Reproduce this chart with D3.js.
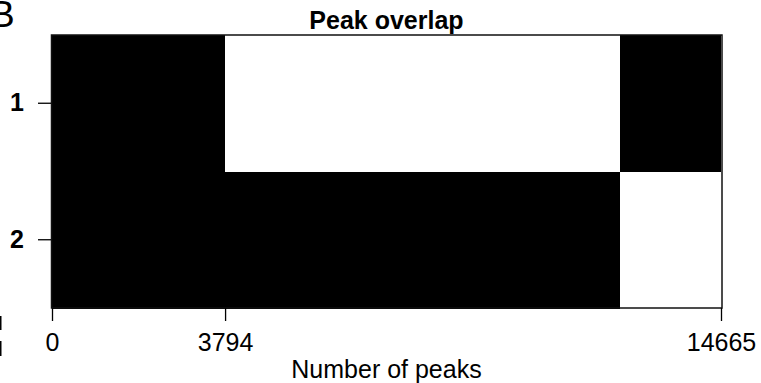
<!DOCTYPE html>
<html>
<head>
<meta charset="utf-8">
<script src="https://cdn.jsdelivr.net/npm/d3@7"></script>
<style>
  body { margin: 0; background: #fff; }
  svg { display: block; font-family: "Liberation Sans", Arial, sans-serif; }
</style>
</head>
<body>
<svg id="chart" width="761" height="383"></svg>
<script>
// Segment boundaries along the x axis (number of peaks)
var breaks = [0, 3794, 12460, 14665];
// Rows of the overlap matrix
var rows = ["1", "2"];
// Fill for each row and segment: 1 = black (peak present), 0 = white
var row1 = [1, 0, 1];
var row2 = [1, 1, 0];
// Labelled x ticks
var xTicks = [0, 3794, 14665];

var svg = d3.select("#chart");

var x = d3.scaleLinear()
    .domain([0, 14665])
    .range([52, 721]);

var y = d3.scaleBand()
    .domain(rows)
    .range([35, 308]);

// Build cells from the row arrays
var cells = [];
[row1, row2].forEach(function(r, i) {
    r.forEach(function(v, j) {
        cells.push({ row: rows[i], x0: breaks[j], x1: breaks[j + 1], v: v });
    });
});

svg.selectAll(".cell")
    .data(cells)
    .join("rect")
    .attr("class", "cell")
    .attr("x", function(d) { return Math.round(x(d.x0)); })
    .attr("width", function(d) { return Math.round(x(d.x1)) - Math.round(x(d.x0)); })
    .attr("y", function(d) { return Math.round(y(d.row)); })
    .attr("height", Math.round(y.bandwidth()))
    .attr("shape-rendering", "crispEdges")
    .attr("fill", function(d) { return d.v ? "#000" : "#fff"; });

// Box round the plot
svg.append("rect")
    .attr("x", 51.5)
    .attr("y", 35)
    .attr("width", 670.5)
    .attr("height", 273)
    .attr("fill", "none")
    .attr("stroke", "#111")
    .attr("stroke-width", 1.5);

// Y axis
var yAxis = svg.append("g")
    .attr("transform", "translate(51,0)")
    .call(d3.axisLeft(y).tickSize(13).tickPadding(14));
yAxis.select(".domain").remove();
yAxis.selectAll("line").attr("stroke", "#000").attr("stroke-width", 1.3);
yAxis.selectAll("text")
    .attr("font-size", 25)
    .attr("font-weight", "bold")
    .attr("fill", "#000")
    .style("font-family", "Liberation Sans, Arial, sans-serif");

// X axis
var xAxis = svg.append("g")
    .attr("transform", "translate(0,308)")
    .call(d3.axisBottom(x).tickValues(xTicks).tickFormat(d3.format("d")).tickSize(13).tickPadding(12));
xAxis.select(".domain").remove();
xAxis.selectAll("line").attr("stroke", "#000").attr("stroke-width", 1.3);
xAxis.selectAll("text")
    .attr("font-size", 25)
    .attr("fill", "#000")
    .style("font-family", "Liberation Sans, Arial, sans-serif");

// Title and axis label
svg.append("text")
    .attr("x", 386.5)
    .attr("y", 29)
    .attr("text-anchor", "middle")
    .attr("font-size", 25)
    .attr("font-weight", "bold")
    .text("Peak overlap");

svg.append("text")
    .attr("x", 386.5)
    .attr("y", 378)
    .attr("text-anchor", "middle")
    .attr("font-size", 25)
    .text("Number of peaks");

// Panel letter, partly off the left edge as in the source figure
svg.append("text")
    .attr("x", -10)
    .attr("y", 27)
    .attr("font-size", 37)
    .text("B");

// Slivers of the neighbouring panel at the left edge
svg.append("rect").attr("x", 0).attr("y", 316).attr("width", 1.5).attr("height", 14).attr("fill", "#000");
svg.append("rect").attr("x", 0).attr("y", 341).attr("width", 1.5).attr("height", 15).attr("fill", "#000");
</script>
</body>
</html>
